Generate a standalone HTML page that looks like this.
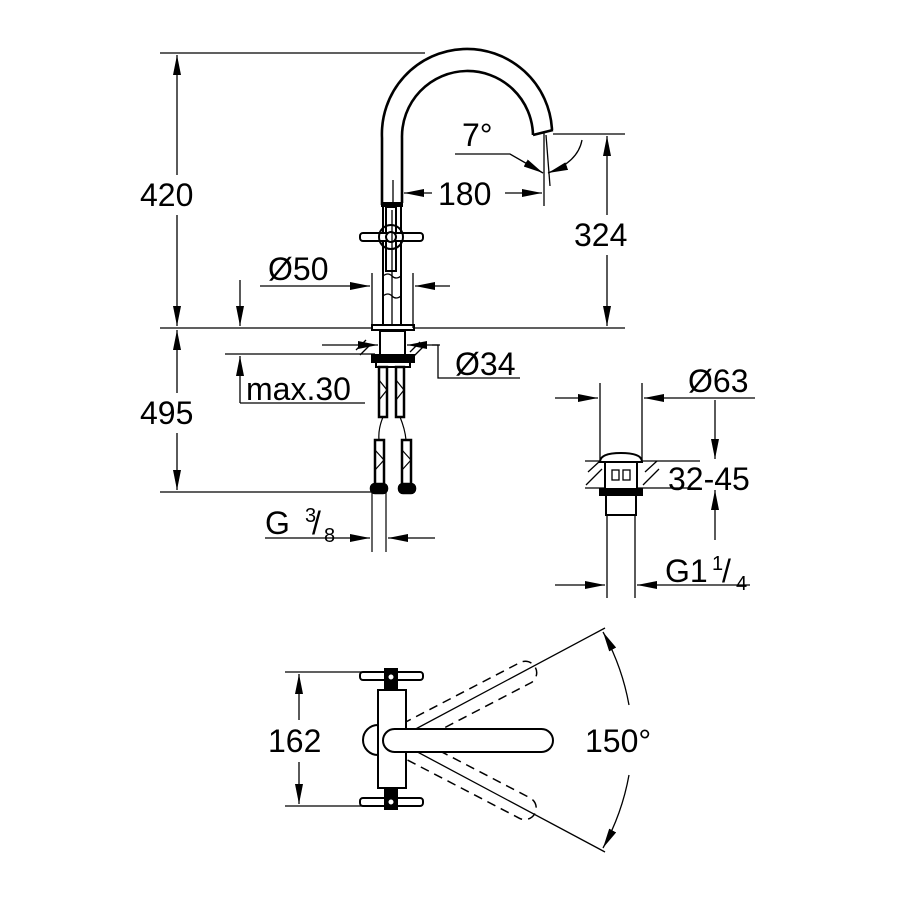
<!DOCTYPE html>
<html><head><meta charset="utf-8"><style>
body{margin:0;background:#fff}
svg{display:block}
text{font-family:"Liberation Sans",Arial,sans-serif;fill:#000}
</style></head><body>
<svg width="900" height="900" viewBox="0 0 900 900" xmlns="http://www.w3.org/2000/svg">
<defs>
<marker id="a" viewBox="0 0 20 8" refX="20" refY="4" markerWidth="20" markerHeight="8" markerUnits="userSpaceOnUse" orient="auto"><path d="M0,0 L20,4 L0,8 z" fill="#000"/></marker>
</defs>
<g stroke="#000" stroke-width="1.3" fill="none">
<line x1="160" y1="53" x2="425" y2="53"/>
<line x1="160" y1="328" x2="625" y2="328"/>
<line x1="160" y1="492" x2="375" y2="492"/>
<line x1="553" y1="134" x2="625" y2="134"/>
<line x1="177" y1="175" x2="177" y2="55" marker-end="url(#a)"/>
<line x1="177" y1="215" x2="177" y2="326" marker-end="url(#a)"/>
<line x1="177" y1="393" x2="177" y2="330" marker-end="url(#a)"/>
<line x1="177" y1="433" x2="177" y2="490" marker-end="url(#a)"/>
<line x1="607" y1="215" x2="607" y2="136" marker-end="url(#a)"/>
<line x1="607" y1="255" x2="607" y2="326" marker-end="url(#a)"/>
</g>
<g stroke="#000" stroke-width="2.6" fill="none">
<path d="M382,205 L382,138 A85,85 0 0 1 552,130"/>
<path d="M402,203 L402,138 A65,65 0 0 1 533,135"/>
<path d="M533,135 L553,130"/>
</g>
<rect x="381" y="202" width="22" height="5" fill="#000"/>
<g stroke="#000" stroke-width="1.3" fill="none">
<line x1="544" y1="132" x2="544" y2="206"/>
<line x1="546" y1="135" x2="550" y2="186"/>
<path d="M455,154 L510,154 L543,173" marker-end="url(#a)"/>
<path d="M582,140 Q578,162 548,173" marker-end="url(#a)"/>
<line x1="432" y1="193" x2="404" y2="193" marker-end="url(#a)"/>
<line x1="505" y1="193" x2="542" y2="193" marker-end="url(#a)"/>
<line x1="393" y1="180" x2="393" y2="205"/>
</g>
<g stroke="#000" stroke-width="2" fill="#fff">
<line x1="383" y1="205" x2="383" y2="325"/>
<line x1="401" y1="205" x2="401" y2="325"/>
<rect x="386" y="207" width="10" height="64"/>
<rect x="360" y="233" width="63" height="8" rx="3"/>
<circle cx="391" cy="237" r="12" fill="none"/>
<circle cx="391" cy="237" r="5"/>
<path d="M383,276 q5,-4 9,0 t9,0" fill="none" stroke-width="1.3"/>
<path d="M383,296 q5,-4 9,0 t9,0" fill="none" stroke-width="1.3"/>
<rect x="372" y="325" width="42" height="5"/>
<rect x="380" y="331" width="25" height="24"/>
<rect x="372" y="355" width="42" height="7" fill="#000"/>
<rect x="376" y="362" width="34" height="5"/>
</g>
<g stroke="#000" stroke-width="1.3" fill="none">
<line x1="392" y1="210" x2="392" y2="325"/>
<line x1="372" y1="273" x2="372" y2="328"/>
<line x1="413" y1="273" x2="413" y2="328"/>
<line x1="260" y1="286" x2="370" y2="286" marker-end="url(#a)"/>
<line x1="450" y1="286" x2="415" y2="286" marker-end="url(#a)"/>
<line x1="322" y1="345" x2="378" y2="345" marker-end="url(#a)"/>
<line x1="440" y1="345" x2="407" y2="345" marker-end="url(#a)"/>
<path d="M432,345 L438,345 L438,378 L520,378"/>
<path d="M356,350 l10,-10 M360,355 l10,-10 M410,352 l10,-10 M414,356 l10,-10"/>
<line x1="225" y1="354" x2="375" y2="354"/>
<path d="M240,403 L240,356" marker-end="url(#a)"/>
<path d="M240,403 L365,403"/>
<line x1="240" y1="280" x2="240" y2="326" marker-end="url(#a)"/>
</g>
<g stroke="#000" stroke-width="2.5" fill="#fff">
<rect x="379" y="367" width="8" height="50"/>
<rect x="396" y="367" width="8" height="50"/>
<rect x="375" y="440" width="9" height="45"/>
<rect x="402" y="440" width="9" height="45"/>
<rect x="371" y="484" width="16" height="9" rx="4" fill="#000"/>
<rect x="399" y="484" width="16" height="9" rx="4" fill="#000"/>
</g>
<g stroke="#000" stroke-width="1.2" fill="none">
<path d="M383,417 q-5,12 -4,23 M400,417 q5,12 6,23"/>
<path d="M379,380 l8,10 l-8,10 M396,380 l8,10 l-8,10 M375,450 l9,10 l-9,10 M402,450 l9,10 l-9,10"/>
<line x1="372" y1="492" x2="372" y2="552"/>
<line x1="386" y1="492" x2="386" y2="552"/>
<line x1="265" y1="538" x2="370" y2="538" marker-end="url(#a)"/>
<line x1="435" y1="538" x2="388" y2="538" marker-end="url(#a)"/>
</g>
<g stroke="#000" stroke-width="1.3" fill="none">
<line x1="600" y1="383" x2="600" y2="460"/>
<line x1="642" y1="383" x2="642" y2="460"/>
<line x1="555" y1="398" x2="598" y2="398" marker-end="url(#a)"/>
<line x1="755" y1="398" x2="644" y2="398" marker-end="url(#a)"/>
<line x1="585" y1="461" x2="700" y2="461"/>
<line x1="585" y1="488" x2="700" y2="488"/>
<line x1="715" y1="400" x2="715" y2="459" marker-end="url(#a)"/>
<line x1="715" y1="540" x2="715" y2="490" marker-end="url(#a)"/>
<path d="M588,472 l12,-11 M586,485 l16,-16 M645,472 l12,-11 M643,485 l16,-16"/>
<line x1="607" y1="515" x2="607" y2="598"/>
<line x1="635" y1="515" x2="635" y2="598"/>
<line x1="555" y1="585" x2="605" y2="585" marker-end="url(#a)"/>
<line x1="750" y1="585" x2="637" y2="585" marker-end="url(#a)"/>
</g>
<g stroke="#000" stroke-width="2" fill="#fff">
<path d="M600,462 Q600,453 621,453 Q642,453 642,462 Z"/>
<rect x="605" y="462" width="32" height="30"/>
<rect x="600" y="489" width="42" height="6" fill="#000"/>
<rect x="606" y="495" width="30" height="20"/>
<rect x="612" y="470" width="7" height="10" fill="none" stroke-width="1.3"/>
<rect x="623" y="470" width="7" height="10" fill="none" stroke-width="1.3"/>
</g>
<g stroke="#000" stroke-width="1.3" fill="none">
<line x1="285" y1="672" x2="395" y2="672"/>
<line x1="285" y1="806" x2="395" y2="806"/>
<line x1="299" y1="720" x2="299" y2="674" marker-end="url(#a)"/>
<line x1="299" y1="762" x2="299" y2="804" marker-end="url(#a)"/>
<line x1="395" y1="740" x2="605" y2="628"/>
<line x1="395" y1="740" x2="605" y2="852"/>
<path d="M629,705 A238,238 0 0 0 603,632" marker-end="url(#a)"/>
<path d="M629,775 A238,238 0 0 1 603,848" marker-end="url(#a)"/>
</g>
<g stroke="#000" stroke-width="2" fill="#fff">
<g stroke-dasharray="9,6" fill="none" stroke-width="1.5">
<rect x="383" y="729" width="170" height="23" rx="11.5" transform="rotate(-27.5 395 740)"/>
<rect x="383" y="729" width="170" height="23" rx="11.5" transform="rotate(27.5 395 740)"/>
</g>
<path d="M378,725 A14,14 0 0 0 378,755"/>
<rect x="378" y="690" width="28" height="98"/>
<rect x="360" y="672" width="63" height="8" rx="3"/>
<rect x="360" y="798" width="63" height="8" rx="3"/>
<rect x="385" y="669" width="12" height="20" fill="#000"/>
<rect x="385" y="789" width="12" height="20" fill="#000"/>
<circle cx="391" cy="677" r="3.5"/>
<circle cx="391" cy="802" r="3.5"/>
<rect x="383" y="729" width="170" height="23" rx="11.5"/>
</g>
<g font-size="32">
<text x="140" y="206">420</text>
<text x="140" y="424">495</text>
<text x="574" y="246">324</text>
<text x="438" y="205">180</text>
<text x="462" y="146">7°</text>
<text x="268" y="280">Ø50</text>
<text x="455" y="375">Ø34</text>
<text x="246" y="400">max.30</text>
<text x="265" y="534">G</text>
<text x="305" y="522" font-size="20">3</text>
<text x="312" y="534">/</text>
<text x="324" y="542" font-size="20">8</text>
<text x="688" y="392">Ø63</text>
<text x="668" y="490">32-45</text>
<text x="665" y="582">G1</text>
<text x="712" y="570" font-size="20">1</text>
<text x="722" y="582">/</text>
<text x="736" y="590" font-size="20">4</text>
<text x="268" y="752">162</text>
<text x="585" y="752">150°</text>
</g>
</svg>
</body></html>
